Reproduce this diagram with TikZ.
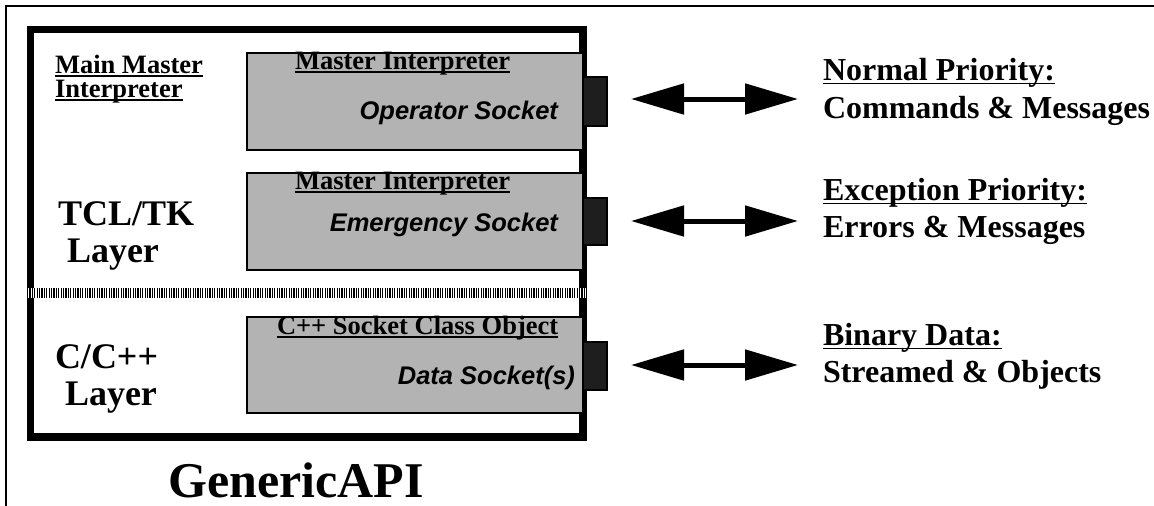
\documentclass[tikz,border=0pt]{standalone}
\usepackage{fontspec}
\setmainfont{Liberation Serif}
\newfontfamily\hvfont{Liberation Sans}
\usetikzlibrary{arrows.meta}
\definecolor{boxgray}{RGB}{179,179,179}
\definecolor{tabdark}{RGB}{30,30,30}
\tikzset{
  lbl/.style={inner sep=0pt, outer sep=0pt},
  smalltxt/.style={lbl, font=\bfseries\fontsize{26.5}{30}\selectfont},
  layertxt/.style={lbl, font=\bfseries\fontsize{36}{40}\selectfont},
  righttxt/.style={lbl, font=\bfseries\fontsize{32}{36}\selectfont},
  socktxt/.style={lbl, font=\hvfont\bfseries\itshape\fontsize{25.5}{29}\selectfont},
  titletxt/.style={lbl, font=\bfseries\fontsize{50}{56}\selectfont},
  gbox/.style={draw=black, line width=1.8pt, fill=boxgray, inner sep=0pt, outer sep=0pt, anchor=north west, minimum width=336pt},
  tabbox/.style={draw=black, line width=1.5pt, fill=tabdark, inner sep=0pt, outer sep=0pt, anchor=north west, minimum width=24pt},
  uline/.style={line width=1.6pt},
  dblarrow/.style={line width=5pt, {Triangle[length=53pt,width=30pt]}-{Triangle[length=53pt,width=30pt]}},
}
\begin{document}
\begin{tikzpicture}[x=1pt,y=-1pt]
\useasboundingbox (0,0) rectangle (1154,506);
% outer frame (top and left only)
\draw[line width=2pt] (6,506) -- (6,6) -- (1154,6);
% inner thick box
\draw[line width=7.5pt] (30.5,29.5) rectangle (583,437);
% separator
\fill[white] (27,288) rectangle (587,298);
\draw[line width=10pt, dash pattern=on 1.2pt off 1.2pt] (27,293) -- (587,293);
% gray boxes
\node[gbox, minimum height=97pt] (g1) at (247,53) {};
\node[gbox, minimum height=97pt] (g2) at (247,173) {};
\node[gbox, minimum height=96pt] (g3) at (247,317) {};
% socket tabs
\node[tabbox, minimum height=49pt] (t1) at (583,77) {};
\node[tabbox, minimum height=47pt] (t2) at (583,198) {};
\node[tabbox, minimum height=48pt] (t3) at (583,342) {};
% left labels
\node[smalltxt, anchor=base west] (mm1) at (55,73) {Main Master};
\node[smalltxt, anchor=base west] (mm2) at (55,97) {Interpreter};
\draw[uline] ([yshift=-3pt]mm1.base west) -- ([yshift=-3pt]mm1.base east);
\draw[uline] ([yshift=-3pt]mm2.base west) -- ([yshift=-3pt]mm2.base east);
\node[layertxt, anchor=base west] (tcl1) at (58,225) {TCL/TK};
\node[layertxt, anchor=base west] (tcl2) at (67,262) {Layer};
\node[layertxt, anchor=base west] (cc1) at (55,368) {C/C++};
\node[layertxt, anchor=base west] (cc2) at (65,405) {Layer};
% box titles
\node[smalltxt, anchor=base west] (bt1) at (295,69) {Master Interpreter};
\node[smalltxt, anchor=base west] (bt2) at (295,189) {Master Interpreter};
\node[smalltxt, anchor=base west] (bt3) at (277,334) {C++ Socket Class Object};
\draw[uline] ([yshift=-3pt]bt1.base west) -- ([yshift=-3pt]bt1.base east);
\draw[uline] ([yshift=-3pt]bt2.base west) -- ([yshift=-3pt]bt2.base east);
\draw[uline] ([yshift=-3pt]bt3.base west) -- ([yshift=-3pt]bt3.base east);
% socket labels
\node[socktxt, anchor=base east] (s1) at (558,119) {Operator Socket};
\node[socktxt, anchor=base east] (s2) at (558,231) {Emergency Socket};
\node[socktxt, anchor=base east] (s3) at (575,384) {Data Socket(s)};
% arrows
\coordinate (a1l) at (631,99);  \coordinate (a1r) at (798,99);
\coordinate (a2l) at (631,221); \coordinate (a2r) at (798,221);
\coordinate (a3l) at (631,365); \coordinate (a3r) at (798,365);
\draw[dblarrow] (a1l) -- (a1r);
\draw[dblarrow] (a2l) -- (a2r);
\draw[dblarrow] (a3l) -- (a3r);
% right labels
\node[righttxt, anchor=base west] (r1) at (823,80) {Normal Priority:};
\node[righttxt, anchor=base west] (r2) at (823,118) {Commands \& Messages};
\node[righttxt, anchor=base west] (r3) at (823,200) {Exception Priority:};
\node[righttxt, anchor=base west] (r4) at (823,237) {Errors \& Messages};
\node[righttxt, anchor=base west] (r5) at (823,345) {Binary Data:};
\node[righttxt, anchor=base west] (r6) at (823,382) {Streamed \& Objects};
\draw[uline] ([yshift=-3.5pt]r1.base west) -- ([yshift=-3.5pt]r1.base east);
\draw[uline] ([yshift=-3.5pt]r3.base west) -- ([yshift=-3.5pt]r3.base east);
\draw[uline] ([yshift=-3.5pt]r5.base west) -- ([yshift=-3.5pt]r5.base east);
% title
\node[titletxt, anchor=base] (api) at (296,497) {GenericAPI};
\end{tikzpicture}
\end{document}
